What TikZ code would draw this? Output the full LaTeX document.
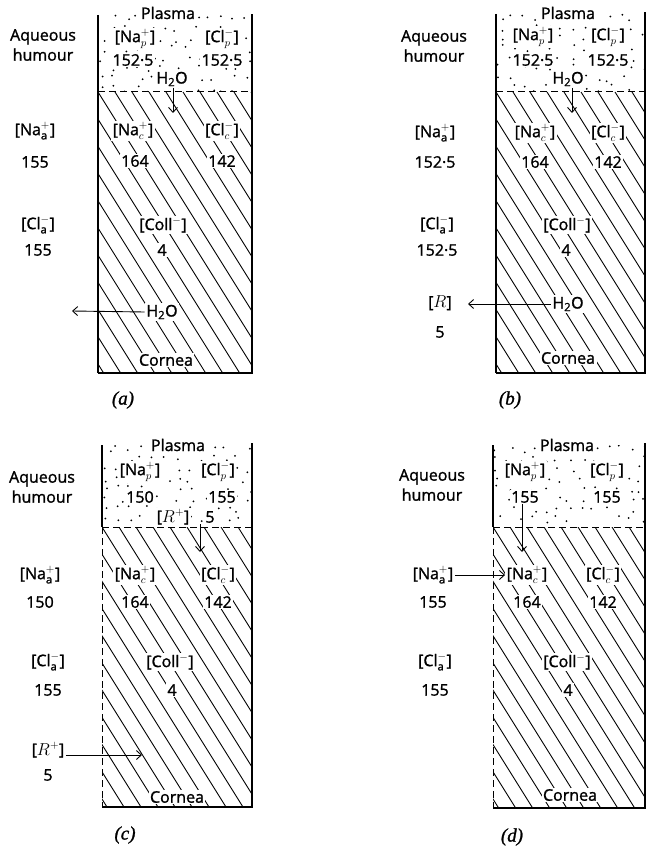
\documentclass[tikz,border=0pt]{standalone}
\usepackage{fontspec}
\setmainfont{Open Sans}[FakeBold=1.4]
\newfontfamily\capfont{Liberation Serif}[FakeBold=1.2]
\usetikzlibrary{arrows.meta}

\begin{document}
\begin{tikzpicture}[x=1pt, y=-1pt,
        font=\fontsize{16}{20}\selectfont,
        lbl/.style={fill=white, inner sep=1.5pt},
        free/.style={inner sep=1.5pt, align=center},
        hatch/.style={line width=0.9pt},
        wall/.style={line width=2.2pt},
        side/.style={line width=1.1pt},
        memb/.style={line width=1pt, dash pattern=on 7pt off 4pt},
        arr/.style={line width=0.9pt, -{Straight Barb[length=5pt,width=9pt]}},
        figlabel/.style={font=\capfont\itshape\fontsize{19}{22}\selectfont}
    ]
        \useasboundingbox (0,0) rectangle (647,848);
        \pgfmathsetseed{42}
        % stippled plasma, hatched cornea
        \foreach \xl/\xr/\yt/\ym/\yb in {98/252/15/92/373, 496/645/14/92/373, 102/252/445/527/807, 493/645/445/527/808}{
            \begin{scope}
                \clip (\xl,\yt) rectangle (\xr,\ym);
                \foreach \i in {0,...,12}
                    \foreach \j in {0,...,7}{
                        \pgfmathsetmacro{\px}{\xl+5+\i*12+8*(rnd-0.5)}
                        \pgfmathsetmacro{\py}{\yt+4+\j*10+7*(rnd-0.5)}
                        \pgfmathsetmacro{\keep}{rnd}
                        \ifdim\keep pt>0.2pt \fill (\px,\py) circle (1pt); \fi
                    }
            \end{scope}
            \begin{scope}
                \clip (\xl,\ym) rectangle (\xr,\yb);
                \foreach \k in {-11,...,10}
                    \draw[hatch] ({\xl+\k*17},\ym) -- ++({(\yb-\ym)/1.6},{\yb-\ym});
            \end{scope}
        }

        % (a)
        \node[lbl] (plasmaA) at (168,13) {Plasma};
        \node[free] (humourA) at (43,45) {Aqueous\\humour};
        \node[lbl] (NapA) at (135,39) {[Na$^{+}_{p}$]};
        \node[lbl] (ClpA) at (222,39) {[Cl$^{-}_{p}$]};
        \node[lbl] (NapvalA) at (133,60) {152·5};
        \node[lbl] (ClpvalA) at (222,60) {152·5};
        \node[lbl] (waterpA) at (172,79) {H\textsubscript{2}O};
        \node[free] (NaaA) at (35,131) {[Na$^{+}_{\mathrm{a}}$]};
        \node[free] (NaavalA) at (35,162) {155};
        \node[lbl] (NacA) at (133,131) {[Na$^{+}_{c}$]};
        \node[lbl] (NacvalA) at (135,161) {164};
        \node[lbl] (ClcA) at (222,131) {[Cl$^{-}_{c}$]};
        \node[lbl] (ClcvalA) at (222,161) {142};
        \node[free] (ClaA) at (38,225) {[Cl$^{-}_{\mathrm{a}}$]};
        \node[free] (ClavalA) at (38,250) {155};
        \node[lbl] (CollA) at (163,225) {[Coll$^{-}$]};
        \node[lbl] (CollvalA) at (162,250) {4};
        \node[lbl] (watercA) at (162,312) {H\textsubscript{2}O};
        \node[lbl] (corneaA) at (166,360) {Cornea};
        \node[figlabel] (capA) at (123,400) {(a)};
        \coordinate (dropA) at (173,113);
        \coordinate (outA) at (72,311);
        \draw[memb] (98,92) -- (252,92);
        \draw[side] (98,15) -- (98,373);
        \draw[wall] (98,373) -- (252,373) -- (252,14);
        \draw[arr] (waterpA.south -| dropA) -- (dropA);
        \draw[arr] (watercA.west) -- (outA);

        % (b)
        \node[lbl] (plasmaB) at (568,13) {Plasma};
        \node[free] (humourB) at (434,46) {Aqueous\\humour};
        \node[lbl] (NapB) at (533,37) {[Na$^{+}_{p}$]};
        \node[lbl] (ClpB) at (608,37) {[Cl$^{-}_{p}$]};
        \node[lbl] (NapvalB) at (533,60) {152·5};
        \node[lbl] (ClpvalB) at (608,60) {152·5};
        \node[lbl] (waterpB) at (568,79) {H\textsubscript{2}O};
        \node[free] (NaaB) at (435,133) {[Na$^{+}_{\mathrm{a}}$]};
        \node[free] (NaavalB) at (435,162) {152·5};
        \node[lbl] (NacB) at (535,133) {[Na$^{+}_{c}$]};
        \node[lbl] (NacvalB) at (535,162) {164};
        \node[lbl] (ClcB) at (608,133) {[Cl$^{-}_{c}$]};
        \node[lbl] (ClcvalB) at (608,162) {142};
        \node[free] (ClaB) at (437,225) {[Cl$^{-}_{\mathrm{a}}$]};
        \node[free] (ClavalB) at (437,250) {152·5};
        \node[lbl] (CollB) at (567,225) {[Coll$^{-}$]};
        \node[lbl] (CollvalB) at (566,250) {4};
        \node[free] (RB) at (440,303) {[$R$]};
        \node[free] (RvalB) at (440,332) {5};
        \node[lbl] (watercB) at (568,304) {H\textsubscript{2}O};
        \node[lbl] (corneaB) at (568,358) {Cornea};
        \node[figlabel] (capB) at (510,400) {(b)};
        \coordinate (dropB) at (572,113);
        \coordinate (inRB) at (468,304);
        \draw[memb] (496,92) -- (645,92);
        \draw[side] (496,14) -- (496,373);
        \draw[wall] (496,373) -- (645,373) -- (645,12);
        \draw[arr] (waterpB.south -| dropB) -- (dropB);
        \draw[arr] (watercB.west) -- (inRB);

        % (c)
        \node[lbl] (plasmaC) at (178,445) {Plasma};
        \node[free] (humourC) at (42,487) {Aqueous\\humour};
        \node[lbl] (NapC) at (140,472) {[Na$^{+}_{p}$]};
        \node[lbl] (ClpC) at (218,472) {[Cl$^{-}_{p}$]};
        \node[lbl] (NapvalC) at (140,497) {150};
        \node[lbl] (ClpvalC) at (222,497) {155};
        \node[lbl] (RpC) at (173,517) {[$R^{+}$]};
        \node[lbl] (RpvalC) at (210,517) {5};
        \node[free] (NaaC) at (40,575) {[Na$^{+}_{\mathrm{a}}$]};
        \node[free] (NaavalC) at (40,602) {150};
        \node[lbl] (NacC) at (135,575) {[Na$^{+}_{c}$]};
        \node[lbl] (NacvalC) at (135,602) {164};
        \node[lbl] (ClcC) at (218,575) {[Cl$^{-}_{c}$]};
        \node[lbl] (ClcvalC) at (218,602) {142};
        \node[free] (ClaC) at (48,662) {[Cl$^{-}_{\mathrm{a}}$]};
        \node[free] (ClavalC) at (48,690) {155};
        \node[lbl] (CollC) at (170,662) {[Coll$^{-}$]};
        \node[lbl] (CollvalC) at (172,690) {4};
        \node[free] (RaC) at (48,750) {[$R^{+}$]};
        \node[free] (RavalC) at (48,775) {5};
        \node[lbl] (corneaC) at (177,797) {Cornea};
        \node[figlabel] (capC) at (125,835) {(c)};
        \coordinate (dropC) at (200,552);
        \coordinate (inC) at (142,755);
        \draw[memb] (102,527) -- (252,527);
        \draw[side] (102,445) -- (102,527);
        \draw[memb] (102,527) -- (102,807);
        \draw[wall] (102,807) -- (252,807) -- (252,443);
        \draw[arr] (RpvalC.south -| dropC) -- (dropC);
        \draw[arr] (RaC.east |- inC) -- (inC);

        % (d)
        \node[lbl] (plasmaD) at (567,445) {Plasma};
        \node[free] (humourD) at (432,485) {Aqueous\\humour};
        \node[lbl] (NapD) at (525,472) {[Na$^{+}_{p}$]};
        \node[lbl] (ClpD) at (607,472) {[Cl$^{-}_{p}$]};
        \node[lbl] (NapvalD) at (525,497) {155};
        \node[lbl] (ClpvalD) at (607,497) {155};
        \node[free] (NaaD) at (433,575) {[Na$^{+}_{\mathrm{a}}$]};
        \node[free] (NaavalD) at (433,602) {155};
        \node[lbl] (NacD) at (527,575) {[Na$^{+}_{c}$]};
        \node[lbl] (NacvalD) at (527,602) {164};
        \node[lbl] (ClcD) at (603,575) {[Cl$^{-}_{c}$]};
        \node[lbl] (ClcvalD) at (603,602) {142};
        \node[free] (ClaD) at (435,662) {[Cl$^{-}_{\mathrm{a}}$]};
        \node[free] (ClavalD) at (435,690) {155};
        \node[lbl] (CollD) at (567,662) {[Coll$^{-}$]};
        \node[lbl] (CollvalD) at (568,690) {4};
        \node[lbl] (corneaD) at (570,795) {Cornea};
        \node[figlabel] (capD) at (512,837) {(d)};
        \coordinate (dropD) at (522,552);
        \draw[memb] (493,527) -- (645,527);
        \draw[side] (493,445) -- (493,527);
        \draw[memb] (493,527) -- (493,808);
        \draw[wall] (493,808) -- (645,808) -- (645,443);
        \draw[arr] (NapvalD.south -| dropD) -- (dropD);
        \draw[arr] (NaaD) -- (NacD);
    \end{tikzpicture}
\end{document}
